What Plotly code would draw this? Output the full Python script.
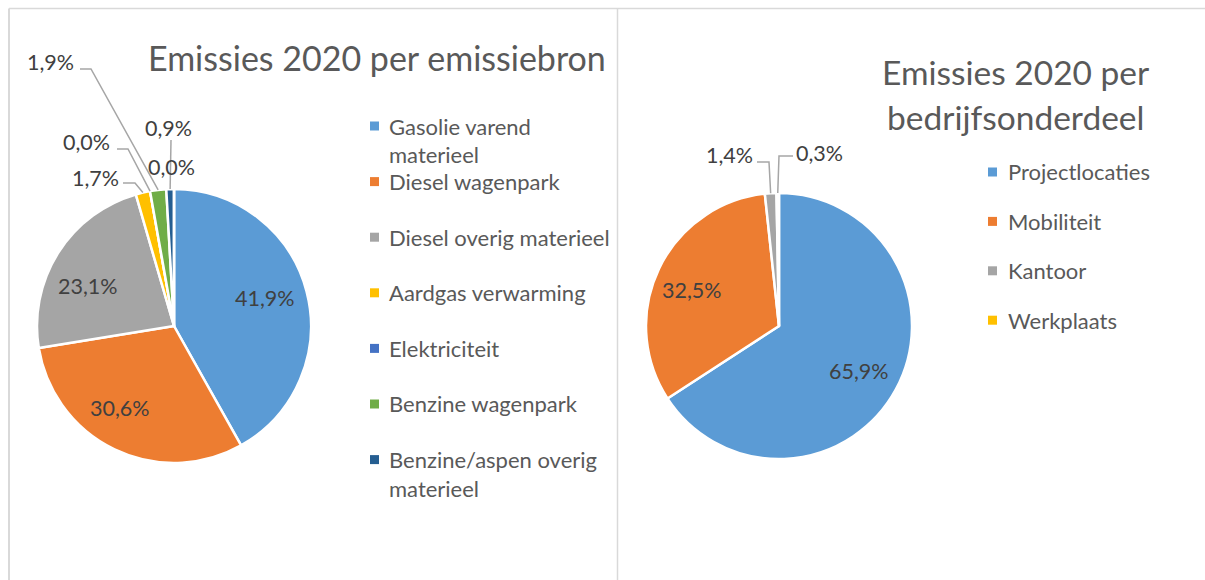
import math
import textwrap
import plotly.graph_objects as go

# ---------------- data ----------------
source_title = "Emissies 2020 per emissiebron"
source_categories = [
    "Gasolie varend materieel",
    "Diesel wagenpark",
    "Diesel overig materieel",
    "Aardgas verwarming",
    "Elektriciteit",
    "Benzine wagenpark",
    "Benzine/aspen overig materieel",
]
source_values = [41.9, 30.6, 23.1, 1.7, 0.0, 1.9, 0.9]
# one extra zero slice that carries a data label but has no legend entry
source_unlisted_values = [0.0]

dept_title = "Emissies 2020 per bedrijfsonderdeel"
dept_categories = ["Projectlocaties", "Mobiliteit", "Kantoor", "Werkplaats"]
dept_values = [65.9, 32.5, 1.4, 0.3]

# ---------------- styles / layout ----------------
W, H = 1205, 580
FONT = "Lato"
TXT = "#595959"
LBL = "#404040"
LEADER = "#A6A6A6"
BORDER = "#D9D9D9"
LEGEND_SIZE = 22
LABEL_SIZE = 21.5
source_colors = ["#5B9BD5", "#ED7D31", "#A5A5A5", "#FFC000", "#4472C4",
                 "#70AD47", "#255E91", "#9E480E"]
dept_colors = ["#5B9BD5", "#ED7D31", "#A5A5A5", "#FFC000"]


def px(x):
    return x / W


def py(y):
    return 1 - y / H


pies = [
    dict(title=source_title, cats=source_categories,
         vals=source_values + source_unlisted_values, colors=source_colors,
         cx=174, cy=326, r=137,
         title_center=377, title_y0=58, title_wrap=40, title_size=34,
         legend_mx=374.5, legend_tx=387, legend_y0=126, legend_step=55.6,
         legend_wrap=23,
         inside=[0, 1, 2],
         nudge={0: (-2, -4), 1: (-12, -4), 2: (-5, 11)},
         # outside labels: text centre, leader start, elbow (None = no line)
         outside={
             3: ((95, 178), (123, 183), (135, 183)),
             4: ((86, 142), (117, 149), (128, 149)),
             5: ((50, 62), (80, 69), (91, 69)),
             6: ((168, 128), (171, 140), None),
             7: ((171, 167), None, None),
         }),
    dict(title=dept_title, cats=dept_categories, vals=dept_values,
         colors=dept_colors, cx=779, cy=326, r=133,
         title_center=1015, title_y0=72, title_wrap=17, title_size=33.5,
         legend_mx=992.5, legend_tx=1006, legend_y0=172, legend_step=49.4,
         legend_wrap=30,
         inside=[0, 1],
         nudge={0: (-2, 1), 1: (-3, 4)},
         outside={
             2: ((729, 155), (757, 162), (769, 162)),
             3: ((819, 153), (793, 156), (779, 156)),
         }),
]


def pct(v):
    return f"{v:.1f}".replace(".", ",") + "%"


fig = go.Figure()
annotations = []
shapes = []

# panel borders
shapes.append(dict(type="line", xref="paper", yref="paper", x0=px(9), x1=1,
                   y0=py(8.5), y1=py(8.5), line=dict(color=BORDER, width=1.5)))
shapes.append(dict(type="line", xref="paper", yref="paper", x0=px(9), x1=px(9),
                   y0=py(8.5), y1=0, line=dict(color=BORDER, width=2)))
shapes.append(dict(type="line", xref="paper", yref="paper", x0=px(617.5), x1=px(617.5),
                   y0=py(8.5), y1=0, line=dict(color=BORDER, width=1.5)))

for p in pies:
    cx, cy, r = p["cx"], p["cy"], p["r"]
    vals = p["vals"]
    labels = p["cats"] + [f"_{i}" for i in range(len(vals) - len(p["cats"]))]
    fig.add_trace(go.Pie(
        labels=labels, values=vals,
        marker=dict(colors=p["colors"][:len(vals)], line=dict(color="white", width=2.5)),
        sort=False, direction="clockwise", rotation=0,
        textinfo="none", showlegend=False,
        hovertemplate="%{label}: %{percent}<extra></extra>",
        domain=dict(x=[px(cx - r), px(cx + r)], y=[py(cy + r), py(cy - r)]),
    ))

    total = sum(vals)
    cum = 0.0
    mids = []
    for v in vals:
        mids.append((cum + v / 2) / total * 2 * math.pi)
        cum += v

    # inside labels
    for i in p["inside"]:
        a = mids[i]
        dx, dy = p["nudge"].get(i, (0, 0))
        x = cx + 0.7 * r * math.sin(a) + dx
        y = cy - 0.7 * r * math.cos(a) + dy
        annotations.append(dict(x=px(x), y=py(y), xref="paper", yref="paper",
                                text=pct(vals[i]), showarrow=False,
                                font=dict(family=FONT, size=LABEL_SIZE, color=LBL),
                                xanchor="center", yanchor="middle"))

    # outside labels + leader lines
    for i, (tc, start, elbow) in p["outside"].items():
        a = mids[i]
        annotations.append(dict(x=px(tc[0]), y=py(tc[1]), xref="paper", yref="paper",
                                text=pct(vals[i]), showarrow=False,
                                font=dict(family=FONT, size=LABEL_SIZE, color=LBL),
                                xanchor="center", yanchor="middle"))
        if start is not None:
            ex = cx + r * math.sin(a)
            ey = cy - r * math.cos(a)
            pts = [start] + ([elbow] if elbow else []) + [(ex, ey)]
            path = "M " + " L ".join(f"{px(x):.5f},{py(y):.5f}" for x, y in pts)
            shapes.append(dict(type="path", xref="paper", yref="paper", path=path,
                               line=dict(color=LEADER, width=1.5)))

    # title
    for k, line in enumerate(textwrap.wrap(p["title"], p["title_wrap"])):
        annotations.append(dict(x=px(p["title_center"]), y=py(p["title_y0"] + 45 * k),
                                xref="paper", yref="paper", text=line, showarrow=False,
                                font=dict(family=FONT, size=p["title_size"], color=TXT),
                                xanchor="center", yanchor="middle"))

    # legend
    for i, cat in enumerate(p["cats"]):
        y = p["legend_y0"] + i * p["legend_step"]
        m = p["legend_mx"]
        shapes.append(dict(type="rect", xref="paper", yref="paper",
                           x0=px(m - 4.5), x1=px(m + 4.5), y0=py(y + 4.5), y1=py(y - 4.5),
                           fillcolor=p["colors"][i], line=dict(width=0)))
        for k, line in enumerate(textwrap.wrap(cat, p["legend_wrap"])):
            annotations.append(dict(x=px(p["legend_tx"]), y=py(y + 29 * k),
                                    xref="paper", yref="paper", text=line, showarrow=False,
                                    font=dict(family=FONT, size=LEGEND_SIZE, color=TXT),
                                    xanchor="left", yanchor="middle"))

fig.update_layout(
    width=W, height=H,
    margin=dict(l=0, r=0, t=0, b=0),
    paper_bgcolor="white", plot_bgcolor="white",
    separators=",.",
    annotations=annotations, shapes=shapes,
    font=dict(family=FONT, color=TXT),
)
fig.write_html(
    "out.html",
    config={"displayModeBar": False},
    post_script="document.body.style.margin='0';"
                "document.documentElement.style.overflow='hidden';",
)
